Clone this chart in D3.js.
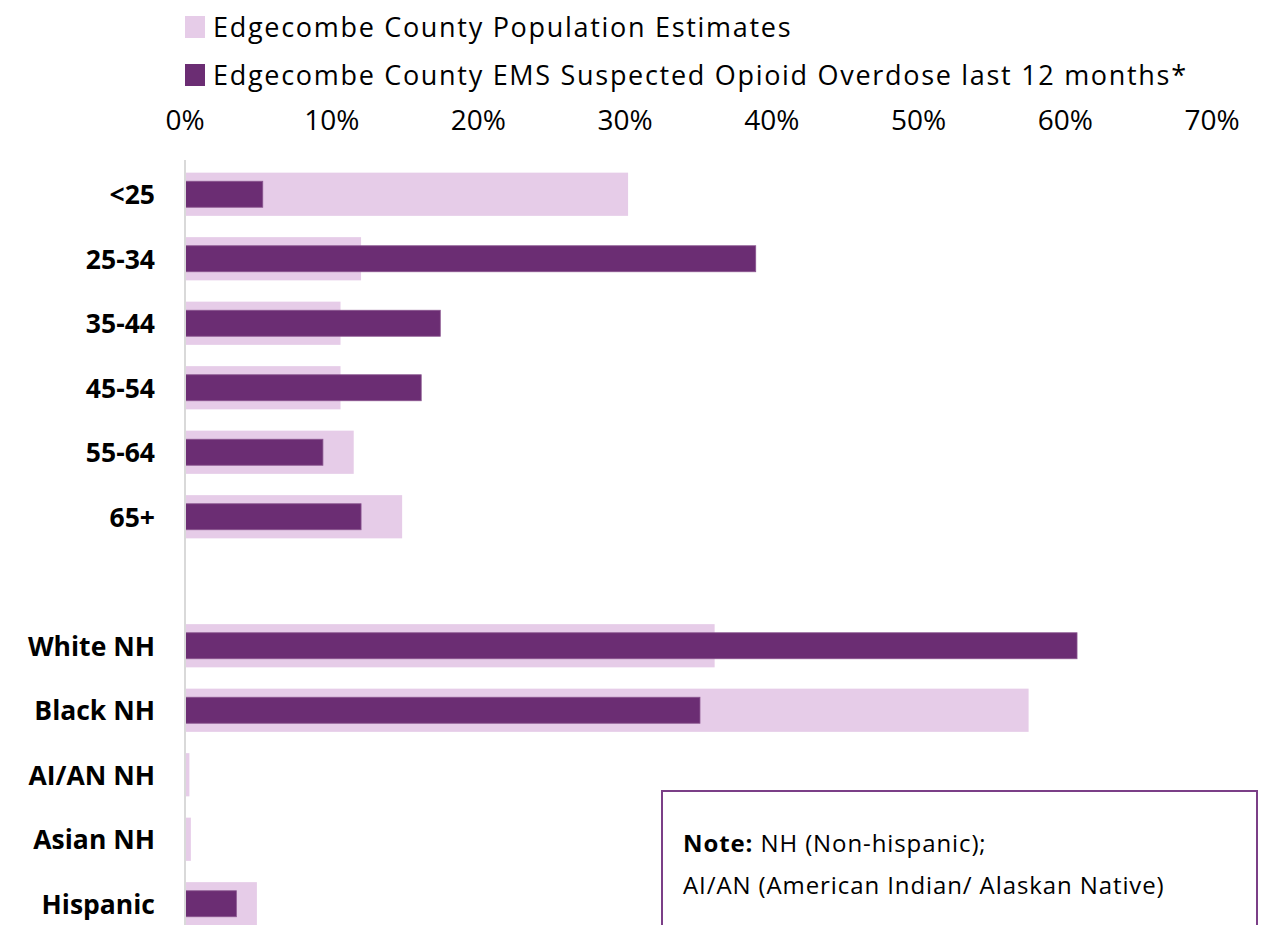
<!DOCTYPE html>
<html>
<head>
<meta charset="utf-8">
<script src="https://cdn.jsdelivr.net/npm/d3@7"></script>
<style>
  body { margin: 0; background: #fff; }
  text { font-family: "Open Sans", Lato, sans-serif; }
</style>
</head>
<body>
<script>
// data
var categories = ['<25', '25-34', '35-44', '45-54', '55-64', '65+', '', 'White NH', 'Black NH', 'AI/AN NH', 'Asian NH', 'Hispanic'];
var population = [30.2, 12.0, 10.6, 10.6, 11.5, 14.8, null, 36.1, 57.5, 0.3, 0.4, 4.9];
var ems = [5.3, 38.9, 17.4, 16.1, 9.4, 12.0, null, 60.8, 35.1, 0, 0, 3.5];
var ticks = [0, 10, 20, 30, 40, 50, 60, 70];
var seriesNames = ['Edgecombe County Population Estimates', 'Edgecombe County EMS Suspected Opioid Overdose last 12 months*'];

var lightColor = '#e6cce8';
var darkColor = '#6b2d73';

var svg = d3.select('body').append('svg')
    .attr('width', 1269)
    .attr('height', 925);

var x = d3.scaleLinear().domain([0, 70]).range([185, 1212]);
var y = d3.scaleBand()
    .domain(categories.map(function(d, i){ return i; }))
    .range([162, 936])
    .paddingInner(0.33)
    .paddingOuter(0.165);

// legend
var legend = svg.selectAll('.legend')
    .data(seriesNames)
    .enter()
    .append('g')
    .attr('transform', function(d, i){ return 'translate(185,' + (16 + i * 48) + ')'; });

legend.append('rect')
    .attr('width', 20)
    .attr('height', 22)
    .attr('fill', function(d, i){ return i == 0 ? lightColor : darkColor; });

legend.append('text')
    .attr('x', 28)
    .attr('y', 21)
    .attr('font-size', 27)
    .attr('letter-spacing', 1.7)
    .attr('fill', '#000')
    .text(function(d){ return d; });

// top axis labels
svg.selectAll('.tick')
    .data(ticks)
    .enter()
    .append('text')
    .attr('x', function(d){ return x(d); })
    .attr('y', 130)
    .attr('text-anchor', 'middle')
    .attr('font-size', 28)
    .attr('fill', '#000')
    .text(function(d){ return d + '%'; });

// population bars
var rows = categories.map(function(c, i){ return {cat: c, i: i, pop: population[i], ems: ems[i]}; });

svg.selectAll('.pop')
    .data(rows.filter(function(d){ return d.pop != null; }))
    .enter()
    .append('rect')
    .attr('x', x(0))
    .attr('y', function(d){ return y(d.i); })
    .attr('width', function(d){ return x(d.pop) - x(0); })
    .attr('height', y.bandwidth())
    .attr('fill', lightColor);

// ems bars
svg.selectAll('.ems')
    .data(rows.filter(function(d){ return d.ems; }))
    .enter()
    .append('rect')
    .attr('x', x(0))
    .attr('y', function(d){ return y(d.i) + y.bandwidth() / 2 - 13; })
    .attr('width', function(d){ return x(d.ems) - x(0); })
    .attr('height', 26)
    .attr('fill', darkColor)
    .attr('stroke', '#8a5690')
    .attr('stroke-width', 0.8);

// axis line
svg.append('line')
    .attr('x1', x(0)).attr('x2', x(0))
    .attr('y1', 160).attr('y2', 925)
    .attr('stroke', '#d9d9d9')
    .attr('stroke-width', 2);

// category labels
svg.selectAll('.cat')
    .data(rows.filter(function(d){ return d.cat != ''; }))
    .enter()
    .append('text')
    .attr('x', 155)
    .attr('y', function(d){ return y(d.i) + y.bandwidth() / 2 + 10; })
    .attr('text-anchor', 'end')
    .attr('font-size', 26.5)
    .attr('font-weight', 'bold')
    .attr('fill', '#000')
    .text(function(d){ return d.cat; });

// note box
svg.append('rect')
    .attr('x', 662)
    .attr('y', 791)
    .attr('width', 595)
    .attr('height', 160)
    .attr('fill', '#fff')
    .attr('stroke', '#7b3f87')
    .attr('stroke-width', 2);

var note = svg.append('text')
    .attr('x', 683)
    .attr('y', 852)
    .attr('font-size', 24)
    .attr('letter-spacing', 0.9)
    .attr('fill', '#000');
note.append('tspan').attr('font-weight', 'bold').text('Note:');
note.append('tspan').text(' NH (Non-hispanic);');

svg.append('text')
    .attr('x', 683)
    .attr('y', 894)
    .attr('font-size', 24)
    .attr('letter-spacing', 0.9)
    .attr('fill', '#000')
    .text('AI/AN (American Indian/ Alaskan Native)');
</script>
</body>
</html>
